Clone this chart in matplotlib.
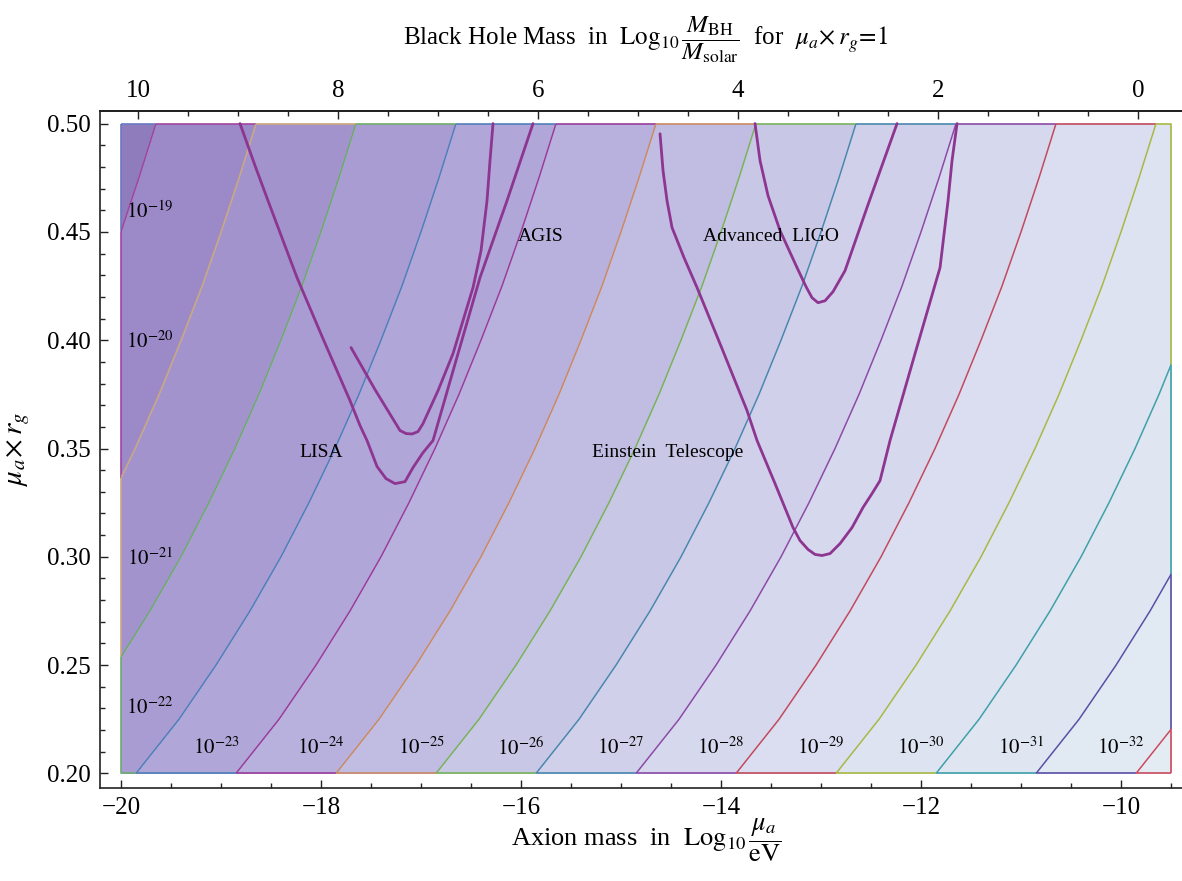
import numpy as np
import matplotlib.pyplot as plt
from matplotlib.patches import Rectangle
from matplotlib.ticker import MultipleLocator

plt.rcParams['font.family'] = ['Liberation Serif', 'DejaVu Serif']
plt.rcParams['mathtext.fontset'] = 'stix'

# plotted region (log10 axion mass in eV, mu_a * r_g)
x_lo, x_hi = -20.0, -9.5
y_lo, y_hi = 0.2, 0.5

# strain contours: every line has the same shape, shifted along the mass axis
line_y = np.array([0.200, 0.225, 0.250, 0.275, 0.300, 0.325, 0.350,
                   0.375, 0.400, 0.425, 0.450, 0.475, 0.500])
line_shift = np.array([0.00, 0.43, 0.80, 1.14, 1.45, 1.73, 1.99,
                       2.23, 2.45, 2.66, 2.85, 3.03, 3.20])
line_foot = [-22.85, -21.85, -20.85, -19.85, -18.85, -17.85, -16.85,
             -15.85, -14.85, -13.85, -12.85, -11.85, -10.85, -9.85]
line_colors = ['#a0459f', '#c9a67c', '#6cab6c', '#4f7fba', '#9a3c9c',
               '#c98a63', '#78b25a', '#4a87ae', '#8c4aa8', '#c2495e',
               '#a8b844', '#3fa0a8', '#5a4fa6', '#cc4a5f']
band_colors = ['#8f7cbc', '#9b89c8', '#a293cd', '#a99cd2', '#b0a6d8',
               '#b9b1dd', '#c1bce2', '#c9c7e6', '#d0d0ea', '#d6d8ed',
               '#dadef0', '#dde3f1', '#dfe6f2', '#e1e9f3', '#e3ebf3']

# strain labels
left_exp = [-19, -20, -21, -22]
left_label_y = [0.459, 0.399, 0.299, 0.230]
bottom_exp = [-23, -24, -25, -26, -27, -28, -29, -30, -31, -32]
bottom_label_x = [-19.05, -18.0, -17.0, -16.0, -15.0, -14.0, -13.0, -12.0, -11.0, -10.0]

# detector reach curves
lisa_x = [-18.81, -18.66, -18.53, -18.38, -18.24, -17.98, -17.71, -17.61, -17.54, -17.44,
          -17.35, -17.26, -17.16, -17.08, -16.98, -16.88, -16.65, -16.41, -16.14, -15.88]
lisa_y = [0.500, 0.4806, 0.4644, 0.4460, 0.4289, 0.4007, 0.3721, 0.3606, 0.3537, 0.3417,
          0.3361, 0.3338, 0.3347, 0.3412, 0.3481, 0.3537, 0.3906, 0.4289, 0.4644, 0.500]
agis_x = [-17.70, -17.46, -17.21, -17.15, -17.09, -17.03, -16.98, -16.83, -16.68,
          -16.48, -16.40, -16.34, -16.31, -16.28]
agis_y = [0.3966, 0.3772, 0.3583, 0.3569, 0.3567, 0.3578, 0.3615, 0.3767, 0.3938,
          0.4243, 0.4413, 0.4644, 0.4829, 0.500]
aligo_x = [-13.66, -13.61, -13.53, -13.41, -13.24, -13.15, -13.09, -13.03, -12.96,
           -12.88, -12.76, -12.53, -12.24]
aligo_y = [0.500, 0.4829, 0.4667, 0.4506, 0.4335, 0.4247, 0.4196, 0.4173, 0.4182,
           0.4224, 0.4321, 0.4626, 0.500]
et_x = [-14.61, -14.58, -14.54, -14.49, -14.37, -14.24, -13.99, -13.74, -13.64, -13.46,
        -13.28, -13.21, -13.13, -13.06, -12.99, -12.91, -12.81, -12.69, -12.58, -12.49,
        -12.41, -12.31, -12.06, -11.81, -11.73, -11.69, -11.64]
et_y = [0.4953, 0.4783, 0.4644, 0.4520, 0.4381, 0.4243, 0.3961, 0.3675, 0.3537, 0.3338,
        0.3135, 0.3075, 0.3034, 0.3011, 0.3006, 0.3015, 0.3061, 0.3135, 0.3228, 0.3292,
        0.3352, 0.3537, 0.3938, 0.4335, 0.4644, 0.4829, 0.500]

detector_names = ['LISA', 'AGIS', 'Advanced  LIGO', 'Einstein  Telescope']
detector_label_x = [-18.0, -15.8, -13.5, -14.53]
detector_label_y = [0.348, 0.448, 0.448, 0.348]

# black hole mass with mu_a * r_g = 1:  log10(M/Msun) = -log10(mu/eV) - mass_offset
mass_offset = 9.83

fig = plt.figure(figsize=(11.82, 8.81), dpi=100)
ax = fig.add_axes([0.0846, 0.1061, 0.9239, 0.7684])
ax.set_xlim(-20.21, -9.29)
ax.set_ylim(0.1935, 0.506)

# filled bands between neighbouring contour lines
clip = Rectangle((x_lo, y_lo), x_hi - x_lo, y_hi - y_lo, transform=ax.transData)
edges = ([np.full_like(line_y, x_lo - 5)]
         + [f + line_shift for f in line_foot]
         + [np.full_like(line_y, x_hi + 5)])
for i, c in enumerate(band_colors):
    poly = ax.fill_betweenx(line_y, edges[i], edges[i + 1], color=c, lw=0, zorder=1)
    poly.set_clip_path(clip)


def entry(f):
    # where a contour enters the box: bottom edge, or the left edge
    if f >= x_lo:
        return (f, y_lo)
    return (x_lo, np.interp(x_lo - f, line_shift, line_y))


def leave(f):
    # where a contour leaves the box: top edge, or the right edge
    if f + line_shift[-1] <= x_hi:
        return (f + line_shift[-1], y_hi)
    return (x_hi, np.interp(x_hi - f, line_shift, line_y))


# box outline, each piece coloured like the band it belongs to
n = len(line_foot)
for i in range(n + 1):
    col = line_colors[i - 1] if i > 0 else '#6a78c0'
    a = (x_lo, y_hi) if i == 0 else entry(line_foot[i - 1])
    b = entry(line_foot[i]) if i < n else (x_hi, y_lo)
    pts = [a]
    if a[0] == x_lo and b[0] > x_lo:
        pts.append((x_lo, y_lo))
    pts.append(b)
    ax.plot(*zip(*pts), color=col, lw=1.2, zorder=3, solid_capstyle='butt')
    a = (x_lo, y_hi) if i == 0 else leave(line_foot[i - 1])
    b = leave(line_foot[i]) if i < n else (x_hi, y_lo)
    pts = [a]
    if a[1] == y_hi and b[0] == x_hi and b[1] < y_hi:
        pts.append((x_hi, y_hi))
    pts.append(b)
    ax.plot(*zip(*pts), color=col, lw=1.2, zorder=3, solid_capstyle='butt')

# contour lines
for f, c in zip(line_foot, line_colors):
    ln, = ax.plot(f + line_shift, line_y, color=c, lw=1.1, zorder=3)
    ln.set_clip_path(clip)

for e, yy in zip(left_exp, left_label_y):
    ax.text(-19.71, yy, rf'$10^{{{e}}}$', fontsize=15, ha='center', va='center', zorder=5)
for e, xx in zip(bottom_exp, bottom_label_x):
    ax.text(xx, 0.2115, rf'$10^{{{e}}}$', fontsize=15, ha='center', va='center', zorder=5)

# detector curves
det_color = '#8d3590'
for xs, ys in [(lisa_x, lisa_y), (agis_x, agis_y), (aligo_x, aligo_y), (et_x, et_y)]:
    ax.plot(xs, ys, color=det_color, lw=2.0, zorder=4, solid_capstyle='round',
            solid_joinstyle='round')
for name, xx, yy in zip(detector_names, detector_label_x, detector_label_y):
    ax.text(xx, yy, name, fontsize=14, ha='center', va='center', zorder=5)

# axes and ticks
ax.set_xticks(np.arange(-20, -9, 2))
ax.xaxis.set_minor_locator(MultipleLocator(0.5))
ax.set_yticks(np.arange(0.20, 0.501, 0.05))
ax.yaxis.set_minor_locator(MultipleLocator(0.01))
ax.yaxis.set_major_formatter('{x:.2f}')
ax.tick_params(which='both', direction='in', top=False, right=False,
               labelsize=18, width=1.0, color='#222222', pad=6.5)
ax.tick_params(which='major', length=6)
ax.tick_params(which='minor', length=3.5)
for s in ax.spines.values():
    s.set_linewidth(1.2)
    s.set_color('#222222')

secax = ax.secondary_xaxis('top', functions=(lambda x: -x - mass_offset,
                                              lambda m: -m - mass_offset))
secax.set_xticks(np.arange(0, 11, 2))
secax.xaxis.set_minor_locator(MultipleLocator(0.5))
secax.tick_params(which='both', direction='in', labelsize=18, width=1.0,
                  color='#222222', pad=6.5)
secax.tick_params(which='major', length=6)
secax.tick_params(which='minor', length=3.5)
secax.spines['top'].set_linewidth(1.2)

ax.set_xlabel(r'Axion mass  in  $\mathrm{Log}_{10}\,\dfrac{\mu_a}{\mathrm{eV}}$', fontsize=19)
ax.xaxis.set_label_coords(0.5, -0.043)
ax.xaxis.label.set_va('top')
ax.set_ylabel(r'$\mu_a\!\times r_g$', fontsize=21)
ax.yaxis.set_label_coords(-0.062, 0.5)
ax.text(0.5, 1.067,
        r'Black Hole Mass  in  $\mathrm{Log}_{10}\,\dfrac{M_{\mathrm{BH}}}{M_{\mathrm{solar}}}$'
        r'  for  $\mu_a\!\times r_g\!=\!1$',
        transform=ax.transAxes, fontsize=18, ha='center', va='bottom')

fig.savefig('out.png', dpi=100)
